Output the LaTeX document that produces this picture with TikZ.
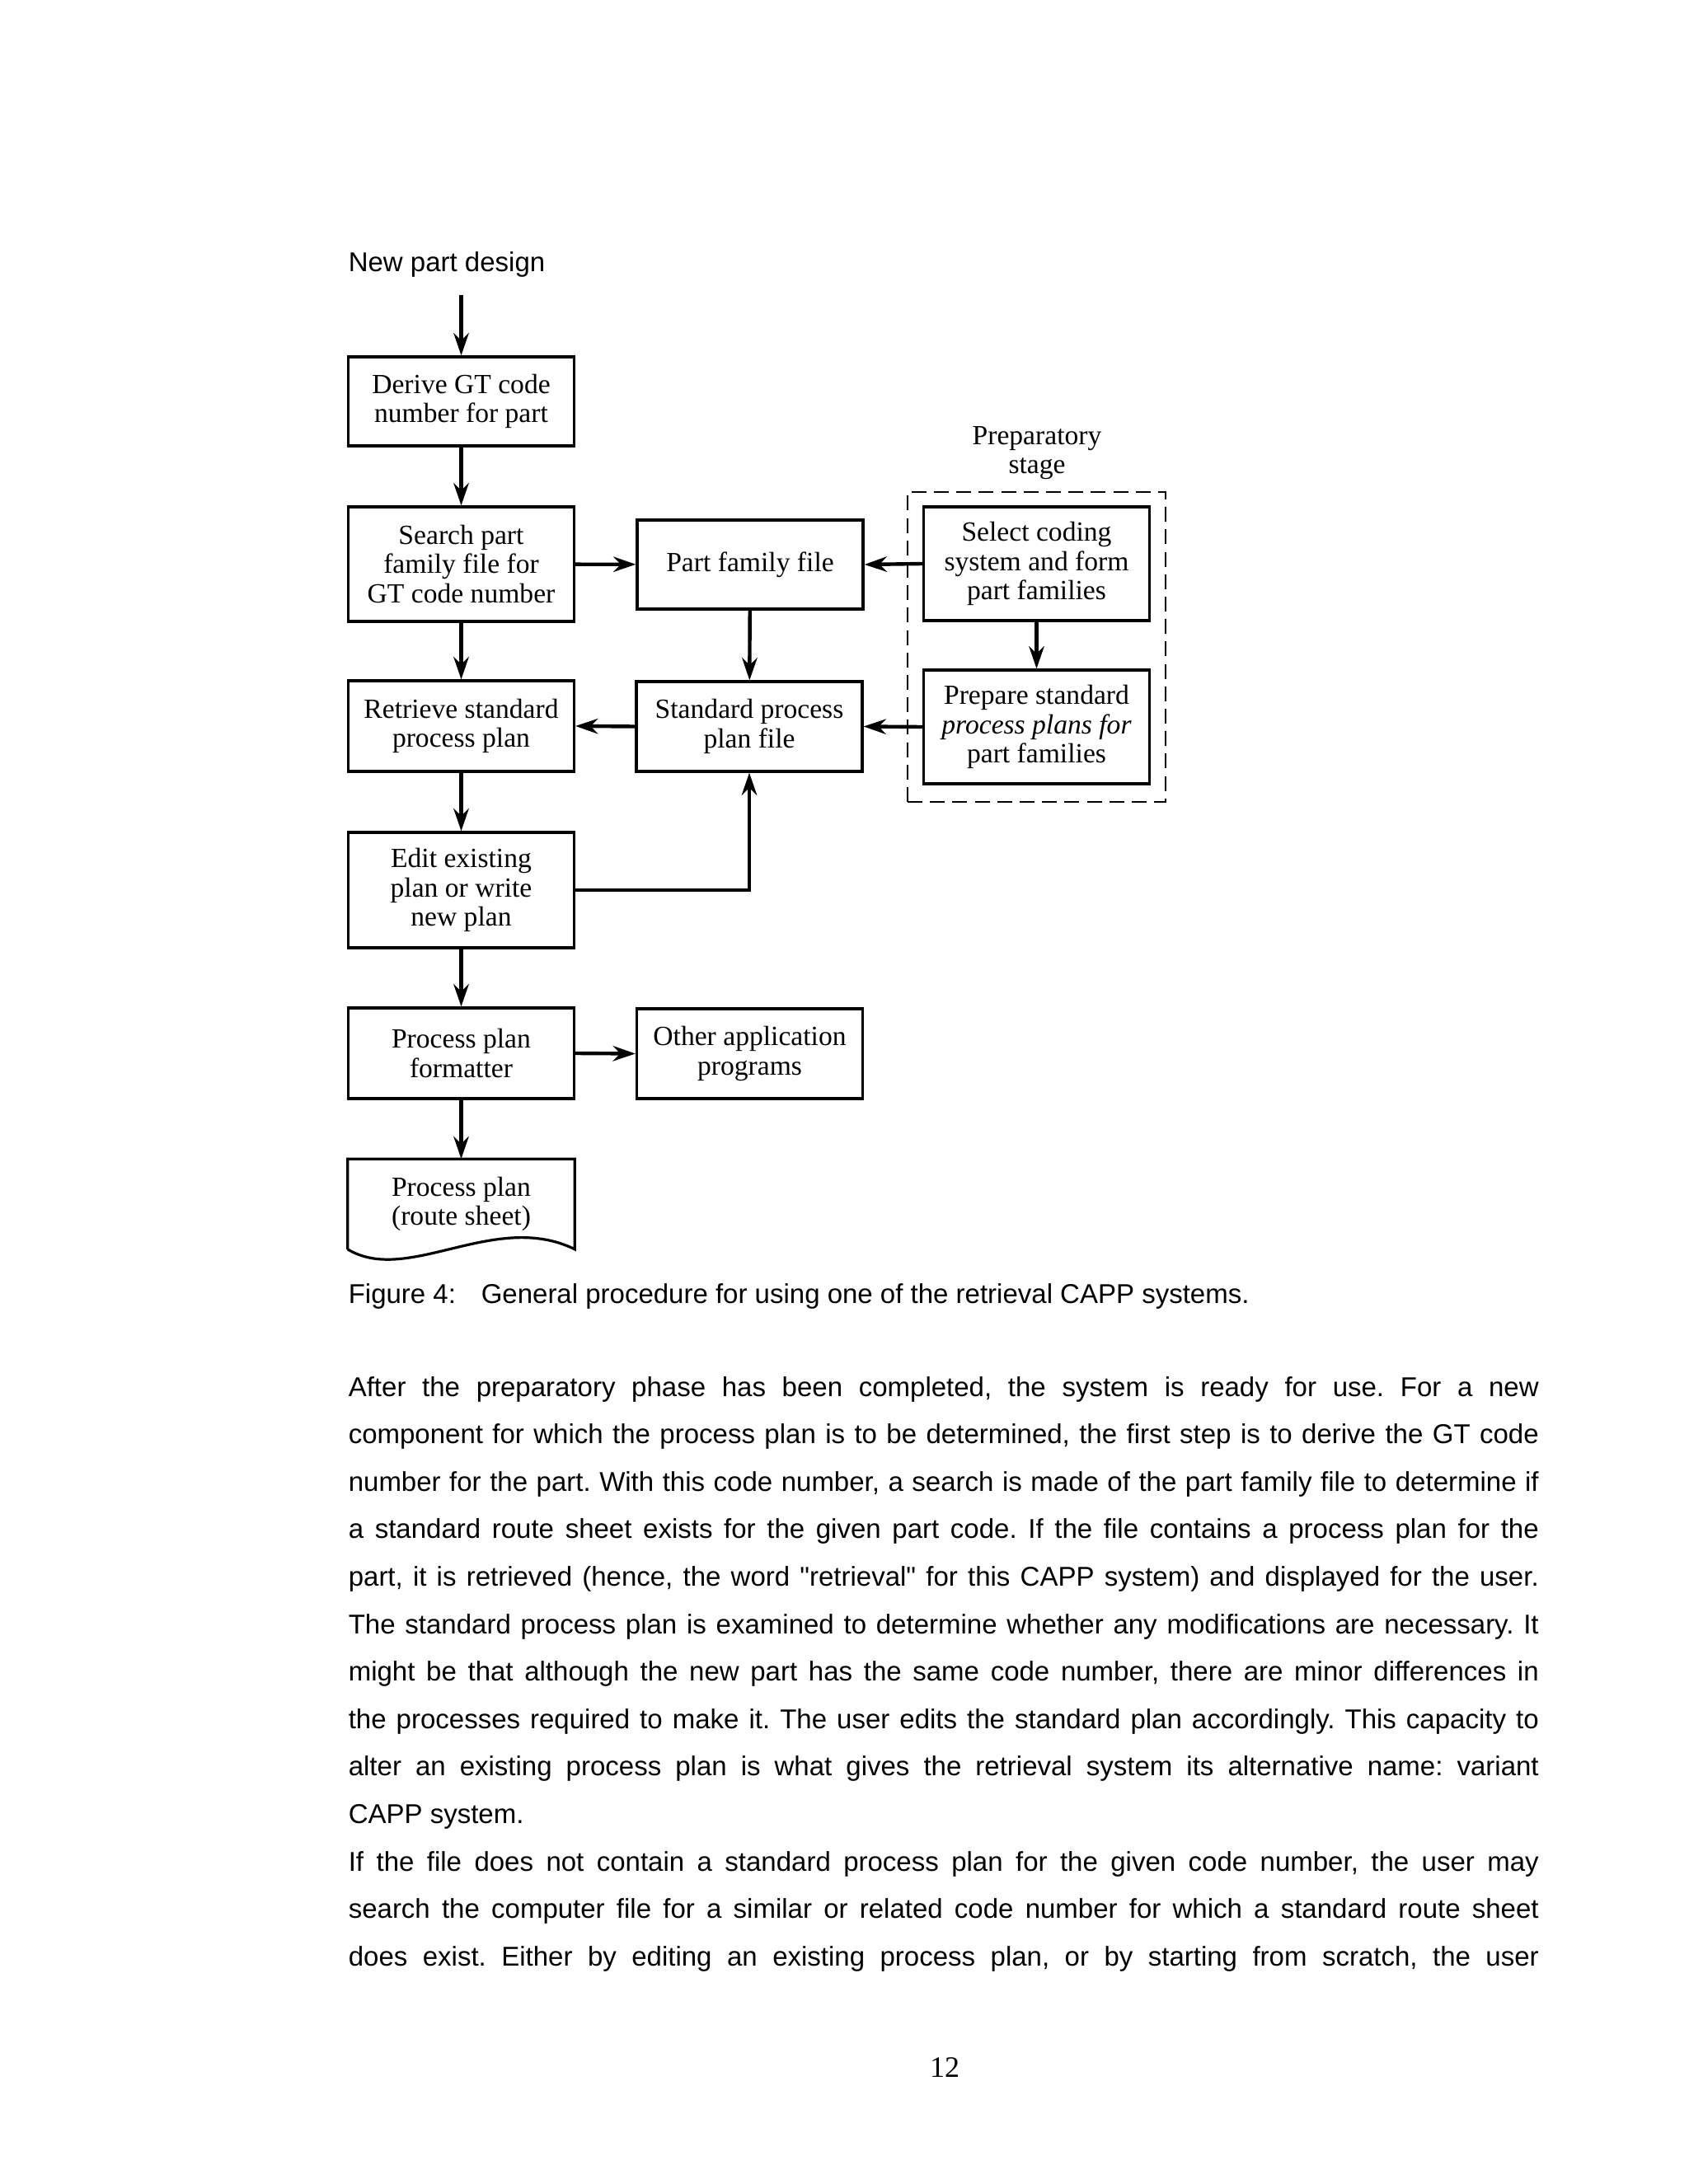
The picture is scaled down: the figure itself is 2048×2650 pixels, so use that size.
\documentclass[tikz,border=0pt]{standalone}
\usepackage{fontspec}
\setmainfont{Liberation Serif}
\newfontfamily\arialfont{Liberation Sans}
\usetikzlibrary{arrows.meta}
\newcommand\dgmfont{\fontsize{8.4}{8.85}\selectfont}
\newcommand\mybodyfont{\arialfont\fontsize{8.25}{9}\selectfont}
\frenchspacing
\begin{document}
\begin{tikzpicture}[x=0.25pt,y=-0.25pt,
  box/.style={draw, line width=0.8pt, inner sep=0pt, align=center,
    minimum width=68.5pt, font=\dgmfont},
  plain/.style={inner sep=0pt, align=center, font=\dgmfont},
  arr/.style={line width=1.1pt, -{Stealth[length=6.8pt,width=4.6pt,inset=2.2pt]}},
  bodyline/.style={anchor=base west, inner sep=0pt, font=\mybodyfont},
  frame/.style={draw, line width=0.65pt, dash pattern=on 4.5pt off 2.3pt,
    minimum width=78.25pt, minimum height=94pt, inner sep=0pt}]
\useasboundingbox (0,0) rectangle (2048,2650);
\fill[white] (0,0) rectangle (2048,2650);

% heading
\node[bodyline] (npd) at (422,330) {New part design};
\coordinate (npdout) at (559.5,358);

% left column
\node[box, minimum height=27pt]    (derive)    at (559.5,487)  {Derive GT code\\number for part};
\node[box, minimum height=34.75pt] (search)    at (559.5,684.5){Search part\\family file for\\GT code number};
\node[box, minimum height=27.5pt]  (retrieve)  at (559.5,881)  {Retrieve standard\\process plan};
\node[box, minimum height=35pt]    (edit)      at (559.5,1080) {Edit existing\\plan or write\\new plan};
\node[box, minimum height=27.5pt]  (formatter) at (559.5,1278) {Process plan\\formatter};
\node[plain, minimum width=68.5pt, minimum height=27pt] (route) at (559.5,1461) {Process plan\\(route sheet)};
\draw[line width=0.8pt] (route.south west) -- (route.north west) -- (route.north east)
  -- (route.south east) .. controls (600,1468) and (495,1560) .. (route.south west);

% middle column
\node[box, minimum height=27pt]    (pff)   at (910,685)   {Part family file};
\node[box, minimum height=27.25pt] (spf)   at (909,881.5) {Standard process\\plan file};
\node[box, minimum height=27.25pt] (other) at (909.5,1278.5) {Other application\\programs};

% preparatory stage
\node[plain] (preplabel) at (1258,549.5) {Preparatory\\stage};
\node[frame] (prepframe) at (1257.5,785) {};
\node[box, minimum height=34.5pt] (select)  at (1257.5,684) {Select coding\\system and form\\part families};
\node[box, minimum height=34.5pt] (prepare) at (1257.5,882) {Prepare standard\\{\itshape process plans for}\\part families};

% connectors
\draw[arr] (npdout) -- (derive.north);
\draw[arr] (derive) -- (search);
\draw[arr] (search) -- (pff);
\draw[arr] (search) -- (retrieve);
\draw[arr] (select.west) -- (pff.east);
\draw[arr] (select) -- (prepare);
\draw[arr] (pff) -- (spf);
\draw[arr] (prepare.west) -- (spf.east);
\draw[arr] (spf.west) -- (retrieve.east);
\draw[arr] (retrieve) -- (edit);
\draw[arr] (edit.east) -| (spf.south);
\draw[arr] (edit) -- (formatter);
\draw[arr] (formatter.east) -- (other.west);
\draw[arr] (formatter) -- (route.north);

% caption
\node[bodyline] (caption) at (422,1581) {\makebox[40.25pt][l]{Figure 4:}General procedure for using one of the retrieval CAPP systems.};

% body text
\node[bodyline] (l1)  at (422,1694.0) {\makebox[361pt][s]{After the preparatory phase has been completed, the system is ready for use. For a new}};
\node[bodyline] (l2)  at (422,1751.6) {\makebox[361pt][s]{component for which the process plan is to be determined, the first step is to derive the GT code}};
\node[bodyline] (l3)  at (422,1809.2) {\makebox[361pt][s]{number for the part. With this code number, a search is made of the part family file to determine if}};
\node[bodyline] (l4)  at (422,1866.8) {\makebox[361pt][s]{a standard route sheet exists for the given part code. If the file contains a process plan for the}};
\node[bodyline] (l5)  at (422,1924.4) {\makebox[361pt][s]{part, it is retrieved (hence, the word "retrieval" for this CAPP system) and displayed for the user.}};
\node[bodyline] (l6)  at (422,1982.0) {\makebox[361pt][s]{The standard process plan is examined to determine whether any modifications are necessary. It}};
\node[bodyline] (l7)  at (422,2039.6) {\makebox[361pt][s]{might be that although the new part has the same code number, there are minor differences in}};
\node[bodyline] (l8)  at (422,2097.2) {\makebox[361pt][s]{the processes required to make it. The user edits the standard plan accordingly. This capacity to}};
\node[bodyline] (l9)  at (422,2154.8) {\makebox[361pt][s]{alter an existing process plan is what gives the retrieval system its alternative name: variant}};
\node[bodyline] (l10) at (422,2212.4) {CAPP system.};
\node[bodyline] (l11) at (422,2270.0) {\makebox[361pt][s]{If the file does not contain a standard process plan for the given code number, the user may}};
\node[bodyline] (l12) at (422,2327.6) {\makebox[361pt][s]{search the computer file for a similar or related code number for which a standard route sheet}};
\node[bodyline] (l13) at (422,2385.2) {\makebox[361pt][s]{does exist. Either by editing an existing process plan, or by starting from scratch, the user}};

% page number
\node[anchor=base, inner sep=0pt, font=\fontsize{9}{10}\selectfont] (pageno) at (1146,2520) {12};
\end{tikzpicture}
\end{document}
